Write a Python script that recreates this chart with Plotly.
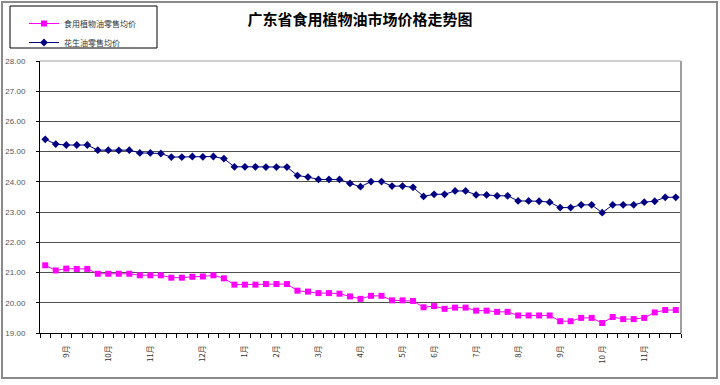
import plotly.graph_objects as go

# ---- data ----
weeks = list(range(61))
peanut_oil = [25.41, 25.25, 25.22, 25.22, 25.22, 25.05, 25.05, 25.04, 25.05, 24.96,
              24.96, 24.94, 24.82, 24.82, 24.84, 24.83, 24.84, 24.77, 24.50, 24.50,
              24.50, 24.49, 24.49, 24.49, 24.21, 24.16, 24.08, 24.08, 24.08, 23.95,
              23.84, 24.01, 24.01, 23.86, 23.86, 23.82, 23.52, 23.59, 23.59, 23.70,
              23.70, 23.57, 23.57, 23.54, 23.54, 23.37, 23.37, 23.36, 23.33, 23.15,
              23.15, 23.24, 23.24, 22.98, 23.24, 23.24, 23.24, 23.33, 23.36, 23.49,
              23.49]
edible_oil = [21.24, 21.07, 21.13, 21.12, 21.12, 20.96, 20.96, 20.96, 20.96, 20.91,
              20.91, 20.91, 20.83, 20.83, 20.86, 20.87, 20.91, 20.81, 20.60, 20.60,
              20.60, 20.62, 20.62, 20.62, 20.40, 20.37, 20.32, 20.32, 20.30, 20.21,
              20.13, 20.23, 20.23, 20.08, 20.08, 20.06, 19.85, 19.89, 19.80, 19.84,
              19.84, 19.74, 19.74, 19.70, 19.70, 19.58, 19.58, 19.58, 19.58, 19.39,
              19.39, 19.50, 19.50, 19.33, 19.53, 19.46, 19.46, 19.50, 19.68, 19.76,
              19.76]
month_pos = [2, 6, 10, 15, 19, 22, 26, 30, 34, 37, 41, 45, 49, 53, 57]
month_text = ["9月", "10月", "11月", "12月", "1月", "2月", "3月", "4月",
              "5月", "6月", "7月", "8月", "9月", "10 月", "11月"]
series_names = ["食用植物油零售均价", "花生油零售均价"]
title_text = "广东省食用植物油市场价格走势图"

# ---- layout geometry ----
W, H = 720, 385
ML, MR, MT, MB = 40, 39, 61, 52
PW, PH = W - ML - MR, H - MT - MB


def px(x):
    return (x - ML) / PW


def py(y):
    return (H - MB - y) / PH


fig = go.Figure()
fig.add_trace(go.Scatter(
    x=weeks, y=edible_oil, name=series_names[0], mode="lines+markers",
    line=dict(color="#FF00FF", width=1),
    marker=dict(symbol="square", size=6, color="#FF00FF")))
fig.add_trace(go.Scatter(
    x=weeks, y=peanut_oil, name=series_names[1], mode="lines+markers",
    line=dict(color="#000080", width=1),
    marker=dict(symbol="diamond", size=6, color="#000080")))

cjk = "Noto Sans CJK SC"

fig.update_layout(
    width=W, height=H,
    margin=dict(l=ML, r=MR, t=MT, b=MB, pad=0, autoexpand=False),
    paper_bgcolor="white", plot_bgcolor="white",
    title=dict(text=title_text, x=0.5, xref="container", xanchor="center",
               y=1 - 20 / H, yref="container", yanchor="middle",
               font=dict(family=cjk, size=15, color="black", weight="bold")),
    showlegend=True,
    legend=dict(x=px(24), y=py(9), xanchor="left", yanchor="top",
                bgcolor="rgba(0,0,0,0)", borderwidth=0,
                font=dict(family=cjk, size=8, color="#333"),
                tracegroupgap=0),
    xaxis=dict(range=[-0.5, 60.5], showgrid=False, zeroline=False,
               showline=True, linecolor="black", linewidth=1,
               tickmode="array", tickvals=month_pos, ticktext=month_text,
               ticks="", tickangle=-90, ticklabelstandoff=8,
               tickfont=dict(family=cjk, size=8, color="#333"),
               minor=dict(ticks="outside", tick0=-0.5, dtick=1, ticklen=4,
                          tickcolor="black", showgrid=False)),
    yaxis=dict(range=[19, 28], dtick=1, tick0=19, tickformat=".2f",
               showgrid=True, gridcolor="#505050", gridwidth=1,
               zeroline=False, showline=True, linecolor="black", linewidth=1,
               ticks="outside", ticklen=3, tickcolor="black",
               ticklabelstandoff=9,
               tickfont=dict(family="Liberation Sans", size=8, color="#555")),
    shapes=[
        # top & right border of plot area (gray)
        dict(type="line", xref="paper", yref="paper", x0=0, x1=1, y0=1, y1=1,
             line=dict(color="#a0a0a0", width=1), layer="above"),
        dict(type="line", xref="paper", yref="paper", x0=1, x1=1, y0=0, y1=1,
             line=dict(color="#a0a0a0", width=2), layer="above"),
        # outer chart border
        dict(type="rect", xref="paper", yref="paper",
             x0=px(2), x1=px(717), y0=py(378), y1=py(2),
             line=dict(color="#8a8a8a", width=2), layer="above"),
        # legend box
        dict(type="rect", xref="paper", yref="paper",
             x0=px(10), x1=px(157), y0=py(48), y1=py(6),
             line=dict(color="black", width=1), layer="above"),
    ],
)

fig.write_html("out.html",
               config={"displayModeBar": False},
               post_script="document.body.style.margin='0';"
                           "document.body.style.overflow='hidden';")
